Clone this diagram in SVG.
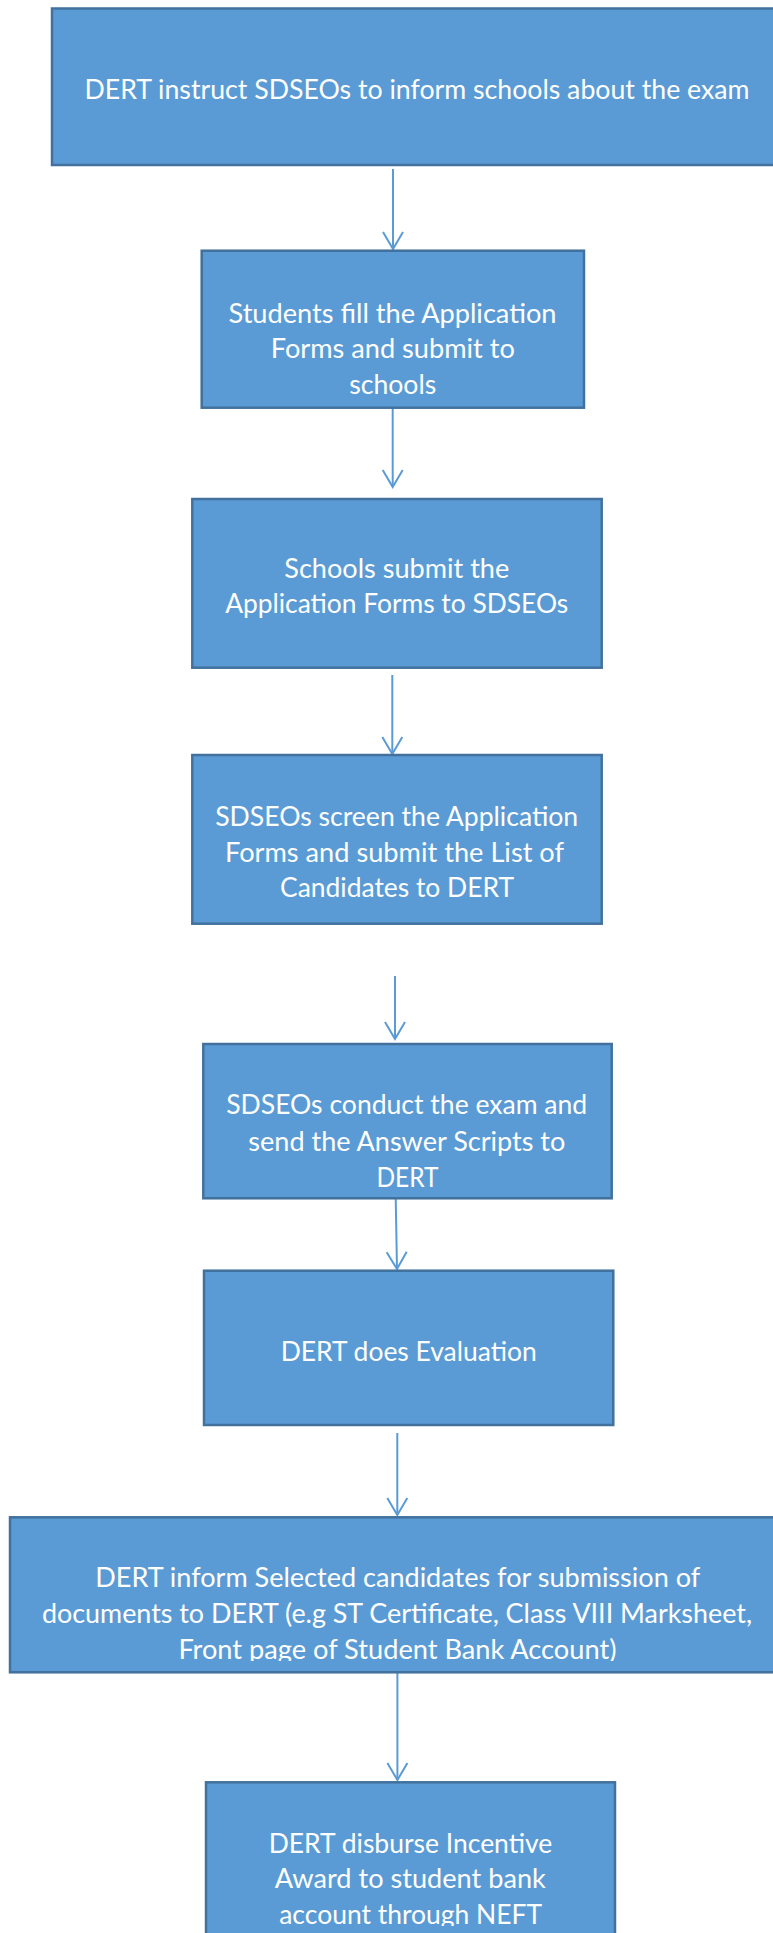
<svg xmlns="http://www.w3.org/2000/svg" width="773" height="1933" viewBox="0 0 773 1933">
<style>
.box{fill:#5B9BD5;stroke:#41719C;stroke-width:2.5}
.t{font-family:Lato,"Liberation Sans",sans-serif;font-size:27px;fill:#FFFFFF;text-anchor:middle}
.c{stroke:#5B9BD5;stroke-width:2;fill:none}
</style>
<defs>
<marker id="ah" viewBox="-20 -12 22 24" refX="0" refY="0" markerWidth="22" markerHeight="24" markerUnits="userSpaceOnUse" orient="auto">
<path d="M-17,-10 L0,0 L-17,10" fill="none" stroke="#5B9BD5" stroke-width="2"/>
</marker>
<clipPath id="clip7"><rect x="0" y="1517" width="773" height="144"/></clipPath>
<clipPath id="clip8"><rect x="0" y="1782" width="773" height="144"/></clipPath>
</defs>
<rect width="773" height="1933" fill="#FFFFFF"/>
<g id="connectors">
<line class="c" x1="393" y1="169" x2="393" y2="249" marker-end="url(#ah)"/>
<line class="c" x1="392.7" y1="408" x2="392.7" y2="487" marker-end="url(#ah)"/>
<line class="c" x1="392.3" y1="675" x2="392.3" y2="754" marker-end="url(#ah)"/>
<line class="c" x1="395" y1="976" x2="395" y2="1039" marker-end="url(#ah)"/>
<line class="c" x1="395.7" y1="1198" x2="397" y2="1269" marker-end="url(#ah)"/>
<line class="c" x1="397.3" y1="1433" x2="397.3" y2="1515" marker-end="url(#ah)"/>
<line class="c" x1="397.4" y1="1672" x2="397.4" y2="1780" marker-end="url(#ah)"/>
</g>
<g id="n1">
<rect class="box" x="52" y="8.5" width="732" height="156.5"/>
<text class="t" x="417" y="99" textLength="665" lengthAdjust="spacingAndGlyphs">DERT instruct SDSEOs to inform schools about the exam</text>
</g>
<g id="n2">
<rect class="box" x="201.7" y="250.7" width="382.3" height="157"/>
<text class="t" x="392.5" y="322.7" textLength="328" lengthAdjust="spacingAndGlyphs">Students fill the Application</text>
<text class="t" x="392.8" y="358.3" textLength="244" lengthAdjust="spacingAndGlyphs">Forms and submit to</text>
<text class="t" x="392.7" y="394" textLength="87" lengthAdjust="spacingAndGlyphs">schools</text>
</g>
<g id="n3">
<rect class="box" x="192.3" y="499" width="409.4" height="168.7"/>
<text class="t" x="396.8" y="578" textLength="225" lengthAdjust="spacingAndGlyphs">Schools submit the</text>
<text class="t" x="396.7" y="613" textLength="343" lengthAdjust="spacingAndGlyphs">Application Forms to SDSEOs</text>
</g>
<g id="n4">
<rect class="box" x="192.3" y="755" width="409.4" height="168.7"/>
<text class="t" x="396.7" y="825.7" textLength="363" lengthAdjust="spacingAndGlyphs">SDSEOs screen the Application</text>
<text class="t" x="394.5" y="861.7" textLength="339" lengthAdjust="spacingAndGlyphs">Forms and submit the List of</text>
<text class="t" x="397" y="897.3" textLength="234" lengthAdjust="spacingAndGlyphs">Candidates to DERT</text>
</g>
<g id="n5">
<rect class="box" x="203.3" y="1044" width="408.4" height="154.3"/>
<text class="t" x="406.7" y="1114.3" textLength="361" lengthAdjust="spacingAndGlyphs">SDSEOs conduct the exam and</text>
<text class="t" x="406.8" y="1151" textLength="317" lengthAdjust="spacingAndGlyphs">send the Answer Scripts to</text>
<text class="t" x="407.5" y="1186.7" textLength="62" lengthAdjust="spacingAndGlyphs">DERT</text>
</g>
<g id="n6">
<rect class="box" x="204" y="1270.7" width="409.3" height="154.3"/>
<text class="t" x="408.7" y="1360.7" textLength="256" lengthAdjust="spacingAndGlyphs">DERT does Evaluation</text>
</g>
<g id="n7">
<rect class="box" x="10" y="1517.3" width="774" height="155"/>
<g clip-path="url(#clip7)">
<text class="t" x="397.7" y="1587.3" textLength="605" lengthAdjust="spacingAndGlyphs">DERT inform Selected candidates for submission of</text>
<text class="t" x="397" y="1623.3" textLength="710" lengthAdjust="spacingAndGlyphs">documents to DERT (e.g ST Certificate, Class VIII Marksheet,</text>
<text class="t" x="397.4" y="1659.3" textLength="438" lengthAdjust="spacingAndGlyphs">Front page of Student Bank Account)</text>
</g>
</g>
<g id="n8">
<rect class="box" x="206" y="1782.3" width="409" height="180"/>
<g clip-path="url(#clip8)">
<text class="t" x="410.5" y="1853.3" textLength="283.6" lengthAdjust="spacingAndGlyphs">DERT disburse Incentive</text>
<text class="t" x="410.3" y="1888.3" textLength="271" lengthAdjust="spacingAndGlyphs">Award to student bank</text>
<text class="t" x="410.7" y="1924" textLength="263" lengthAdjust="spacingAndGlyphs">account through NEFT</text>
</g>
</g>
</svg>
